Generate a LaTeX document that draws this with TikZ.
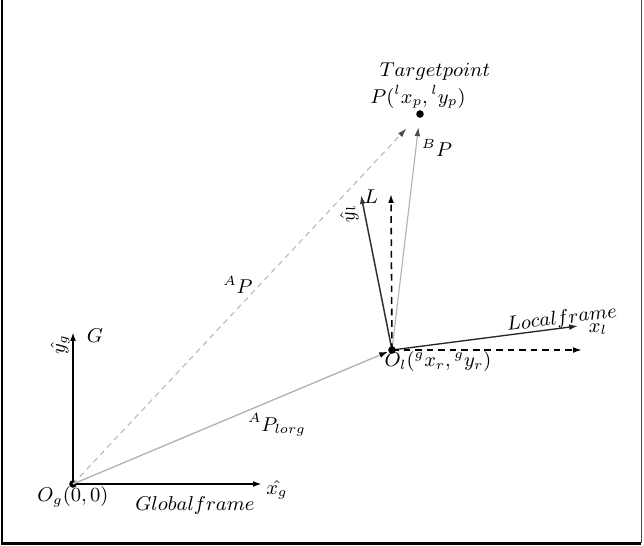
\documentclass[tikz,border=0pt]{standalone}
\usetikzlibrary{arrows.meta}
\begin{document}
\begin{tikzpicture}[x=0.45pt,y=-0.45pt,
  tip/.style={-{Latex[length=4pt,width=2.6pt]}},
  lbl/.style={inner sep=0pt,font=\fontsize{9}{11}\selectfont},
  dotnode/.style={circle,fill=black,inner sep=0pt,minimum size=3.4pt}]
\useasboundingbox (0,0) rectangle (644,546);
% frame border
\draw[line width=1.2pt] (2,0) -- (2,543.5) -- (641,543.5);
\draw[line width=0.5pt,black!70] (641.5,0) -- (641.5,543);

% points
\node[dotnode] (Og) at (73,484) {};
\node[dotnode] (Ol) at (392,350) {};
\node[dotnode] (P) at (420,114) {};
\coordinate (ygtip) at (73,332);
\coordinate (xgtip) at (262,484);
\coordinate (xltip) at (578,326);
\coordinate (xdtip) at (582,350);
\coordinate (yltip) at (361,195);
\coordinate (ydtip) at (391,194);

% global axes
\draw[tip,line width=0.9pt] (Og.center) -- (ygtip);
\draw[tip,line width=0.9pt] (Og.center) -- (xgtip);

% vectors
\draw[-{Latex[length=4pt,width=2.6pt,black]},gray!60,line width=0.6pt] (Og.center) -- (Ol);
\draw[-{Latex[length=4pt,width=2.6pt,black!70]},gray!55,line width=0.5pt,dash pattern=on 2.5pt off 2pt,shorten >=9pt] (Og.center) -- (P.center);
\draw[-{Latex[length=4pt,width=2.6pt,black!70]},gray!60,line width=0.5pt,shorten >=6pt] (Ol.center) -- (P.center);

% local axes
\draw[tip,black!80,line width=0.7pt] (Ol.center) -- (yltip);
\draw[tip,black,line width=0.7pt,dash pattern=on 3pt off 2.2pt] (Ol.center) -- (ydtip);
\draw[tip,black!85,line width=0.6pt] (Ol.center) -- (xltip);
\draw[tip,black,line width=0.7pt,dash pattern=on 3pt off 2.2pt] (Ol.center) -- (xdtip);

% labels
\node[lbl] (tpl) at (435,72) {$Target point$};
\node[lbl] (pl) at (418,97) {$P(^{l}x_p,{}^{l}y_p)$};
\node[lbl] (bpl) at (437,148) {$^{B}P$};
\node[lbl] (apl) at (238,285) {$^{A}P$};
\node[lbl] (aporg) at (277,425) {$^{A}P_{lorg}$};
\node[lbl] (oll) at (438,362) {$O_l(^{g}x_r,{}^{g}y_r)$};
\node[lbl,rotate=7] (lfl) at (562,319) {$Local frame$};
\node[lbl] (xll) at (598,329) {$x_l$};
\node[lbl,rotate=101] (yll) at (349,214) {$\hat{y_l}$};
\node[lbl] (Ll) at (371,197) {$L$};
\node[lbl] (Gl) at (95,336) {$G$};
\node[lbl,rotate=90] (ygl) at (60,345) {$\hat{y_g}$};
\node[lbl] (xgl) at (277,490) {$\hat{x_g}$};
\node[lbl] (ogl) at (73,497) {$O_g(0,0)$};
\node[lbl] (gfl) at (195,506) {$Global frame$};
\end{tikzpicture}
\end{document}
